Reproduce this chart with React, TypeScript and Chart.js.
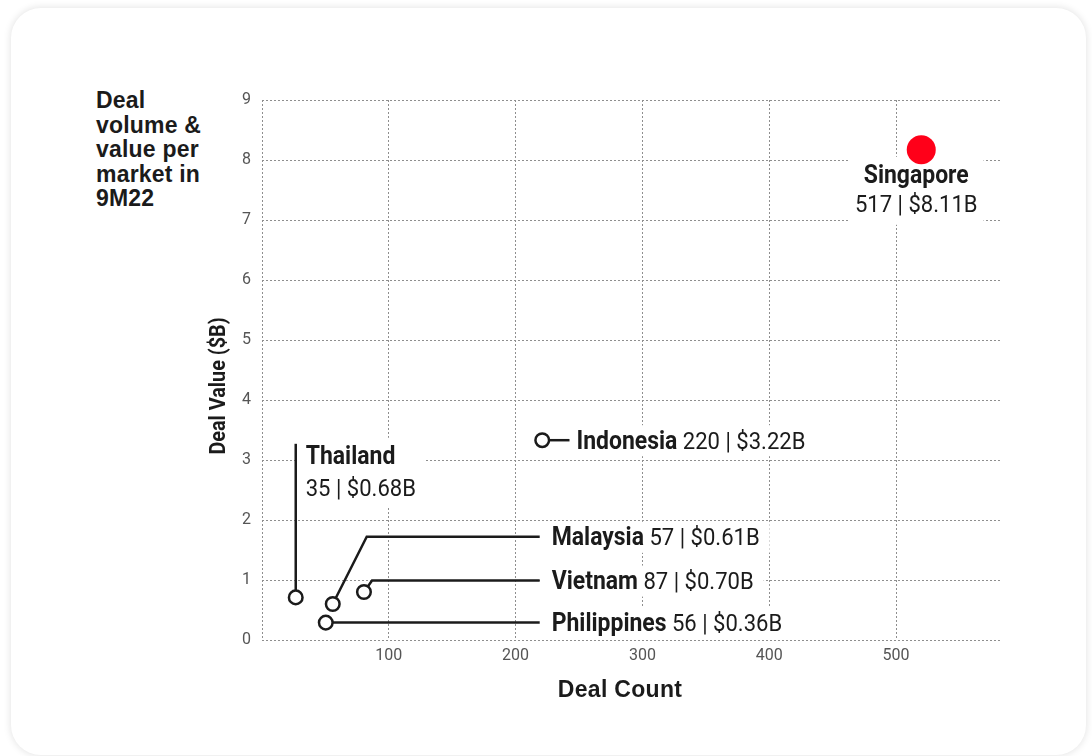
import React, { useEffect, useRef } from 'react';
import { Chart, registerables } from 'chart.js';

Chart.register(...registerables);

// ---- data ----
const countries = ['Thailand', 'Malaysia', 'Vietnam', 'Philippines', 'Indonesia', 'Singapore'];
// plotted marker positions as drawn in the reference
const dealCountPos = [26.6, 55.8, 80.4, 50.3, 221, 519.9];
const dealValuePos = [0.71, 0.6, 0.8, 0.29, 3.33, 8.17];
// values printed in the labels
const dealCountLabel = ['35', '57', '87', '56', '220', '517'];
const dealValueLabel = ['$0.68B', '$0.61B', '$0.70B', '$0.36B', '$3.22B', '$8.11B'];
const xTickValues = [0, 100, 200, 300, 400, 500];
const yTickValues = [0, 1, 2, 3, 4, 5, 6, 7, 8, 9];
// leader-line paths in data units (annotation geometry)
const leaderPaths: number[][][] = [
  [[26.6, 0.71], [26.6, 3.27]],
  [[55.8, 0.6], [82.6, 1.72], [219, 1.72]],
  [[80.4, 0.8], [86.8, 0.99], [219, 0.99]],
  [[50.3, 0.29], [219, 0.29]],
  [[221, 3.33], [242.5, 3.33]],
  [],
];
const labelMode = ['stack', 'inline', 'inline', 'inline', 'inline', 'below'];
const labelGap = [10, 12, 12, 12, 7, 0];

const TXT = '#1b1b1b';
const SX = 0.9; // horizontal condensing of label text
const BOLD = 'bold 25.5px Roboto, "Liberation Sans", sans-serif';
const REG = '24.5px Roboto, "Liberation Sans", sans-serif';

type Part = { t: string; f: string };
type Item = {
  lines: { x: number; y: number; parts: Part[]; align: 'left' | 'center' }[];
  box: [number, number, number, number];
};

function partsWidth(ctx: CanvasRenderingContext2D, parts: Part[]) {
  let w = 0;
  parts.forEach((p) => {
    ctx.font = p.f;
    w += ctx.measureText(p.t).width * SX;
  });
  return w;
}

function layout(chart: any): Item[] {
  const { ctx } = chart;
  const xs = chart.scales.x;
  const ys = chart.scales.y;
  const out: Item[] = [];
  countries.forEach((name, i) => {
    const nums = dealCountLabel[i] + ' | ' + dealValueLabel[i];
    const px = xs.getPixelForValue(dealCountPos[i]);
    const py = ys.getPixelForValue(dealValuePos[i]);
    const path = leaderPaths[i];
    if (labelMode[i] === 'inline') {
      const end = path[path.length - 1];
      const ex = xs.getPixelForValue(end[0]);
      const ey = ys.getPixelForValue(end[1]);
      const parts = [
        { t: name, f: BOLD },
        { t: ' ' + nums, f: REG },
      ];
      const tx = ex + labelGap[i];
      const w = partsWidth(ctx, parts);
      out.push({
        lines: [{ x: tx, y: ey + 8.5, parts, align: 'left' }],
        box: [ex + 2, ey - 15, tx + w + 10 - (ex + 2), 31],
      });
    } else if (labelMode[i] === 'stack') {
      const top = path[path.length - 1];
      const tx0 = xs.getPixelForValue(top[0]);
      const ty0 = ys.getPixelForValue(top[1]);
      const tx = tx0 + labelGap[i];
      const l1 = [{ t: name, f: BOLD }];
      const l2 = [{ t: nums, f: REG }];
      const w = Math.max(partsWidth(ctx, l1), partsWidth(ctx, l2));
      out.push({
        lines: [
          { x: tx, y: ty0 + 20, parts: l1, align: 'left' },
          { x: tx, y: ty0 + 52, parts: l2, align: 'left' },
        ],
        box: [tx0 + 2, ty0 - 6, tx + w + 8 - (tx0 + 2), 69],
      });
    } else {
      const cx = px - 5;
      const l1 = [{ t: name, f: BOLD }];
      const l2 = [{ t: nums, f: REG }];
      const w = Math.max(partsWidth(ctx, l1), partsWidth(ctx, l2));
      out.push({
        lines: [
          { x: cx, y: py + 33, parts: l1, align: 'center' },
          { x: cx, y: py + 62, parts: l2, align: 'center' },
        ],
        box: [cx - w / 2 - 6, py + 7, w + 12, 68],
      });
    }
  });
  return out;
}

const labelPlugin = {
  id: 'dealLabels',
  beforeDatasetsDraw(chart: any) {
    const { ctx } = chart;
    const xs = chart.scales.x;
    const ys = chart.scales.y;
    const items = layout(chart);
    ctx.save();
    ctx.fillStyle = '#ffffff';
    items.forEach((it) => ctx.fillRect(it.box[0], it.box[1], it.box[2], it.box[3]));
    ctx.strokeStyle = TXT;
    ctx.lineWidth = 2.5;
    ctx.lineJoin = 'miter';
    leaderPaths.forEach((p) => {
      if (!p.length) return;
      ctx.beginPath();
      p.forEach(([a, b], k) => {
        const X = xs.getPixelForValue(a);
        const Y = ys.getPixelForValue(b);
        if (k === 0) ctx.moveTo(X, Y);
        else ctx.lineTo(X, Y);
      });
      ctx.stroke();
    });
    ctx.restore();
  },
  afterDatasetsDraw(chart: any) {
    const { ctx } = chart;
    const items = layout(chart);
    ctx.save();
    ctx.fillStyle = TXT;
    ctx.textBaseline = 'alphabetic';
    ctx.textAlign = 'left';
    items.forEach((it) => {
      it.lines.forEach((ln) => {
        let x = ln.x;
        if (ln.align === 'center') x = ln.x - partsWidth(ctx, ln.parts) / 2;
        ln.parts.forEach((p) => {
          ctx.font = p.f;
          ctx.save();
          ctx.translate(x, ln.y);
          ctx.scale(SX, 1);
          ctx.fillText(p.t, 0, 0);
          ctx.restore();
          x += ctx.measureText(p.t).width * SX;
        });
      });
    });
    // axis titles
    ctx.save();
    ctx.translate(225, 386);
    ctx.rotate(-Math.PI / 2);
    ctx.scale(0.9, 1);
    ctx.textAlign = 'center';
    ctx.font = 'bold 22px Roboto, sans-serif';
    ctx.fillText('Deal Value ($B)', 0, 0);
    ctx.restore();
    ctx.textAlign = 'center';
    ctx.font = 'bold 23px "Liberation Sans", Arial, sans-serif';
    (ctx as any).letterSpacing = '0.3px';
    ctx.fillText('Deal Count', 620, 697);
    ctx.restore();
  },
};

export default function App() {
  const ref = useRef<HTMLCanvasElement | null>(null);
  useEffect(() => {
    if (!ref.current) return;
    const chart = new Chart(ref.current, {
      type: 'scatter',
      data: {
        datasets: [
          {
            data: countries.map((_, i) => ({ x: dealCountPos[i], y: dealValuePos[i] })),
            pointRadius: countries.map((c) => (c === 'Singapore' ? 14.5 : 6.8)),
            pointBorderWidth: countries.map((c) => (c === 'Singapore' ? 0 : 2.5)),
            pointBackgroundColor: countries.map((c) => (c === 'Singapore' ? '#ff0019' : '#ffffff')),
            pointBorderColor: countries.map((c) => (c === 'Singapore' ? '#ff0019' : TXT)),
            pointHoverRadius: 0,
          },
        ],
      },
      options: {
        responsive: false,
        animation: false,
        devicePixelRatio: 1,
        layout: { padding: { left: 0, right: 92, top: 100, bottom: 0 } },
        plugins: { legend: { display: false }, tooltip: { enabled: false } },
        scales: {
          x: {
            type: 'linear',
            min: 0,
            max: 582,
            afterBuildTicks: (s: any) => {
              s.ticks = xTickValues.map((v) => ({ value: v }));
            },
            afterFit: (s: any) => {
              s.height = 116;
            },
            grid: { color: '#8e8e8e', lineWidth: 1, drawTicks: false },
            border: { display: false, dash: [2, 2] },
            ticks: {
              padding: 6,
              color: '#555555',
              autoSkip: false,
              maxRotation: 0,
              font: { family: 'Roboto', size: 16 },
              callback: (v: any) => (v === 0 ? '' : String(v)),
            },
          },
          y: {
            type: 'linear',
            min: 0,
            max: 9,
            afterBuildTicks: (s: any) => {
              s.ticks = yTickValues.map((v) => ({ value: v }));
            },
            afterFit: (s: any) => {
              s.width = 262;
            },
            grid: { color: '#8e8e8e', lineWidth: 1, drawTicks: false },
            border: { display: false, dash: [2, 2] },
            ticks: {
              padding: 11,
              color: '#555555',
              autoSkip: false,
              font: { family: 'Roboto', size: 16 },
            },
          },
        },
      },
      plugins: [labelPlugin],
    } as any);
    return () => chart.destroy();
  }, []);

  return (
    <div style={{ position: 'fixed', left: 0, top: 0, width: 1092, height: 756, background: '#ffffff', overflow: 'hidden' }}>
      <div
        style={{
          position: 'absolute',
          left: 11,
          top: 8,
          width: 1075,
          height: 747,
          borderRadius: 30,
          background: '#ffffff',
          boxShadow: '0 0 7px 1px rgba(0,0,0,0.10)',
        }}
      />
      <div
        style={{
          position: 'absolute',
          left: 96,
          top: 88,
          width: 160,
          font: 'bold 23px "Liberation Sans", Arial, sans-serif',
          lineHeight: '24.6px',
          letterSpacing: '0.2px',
          color: TXT,
        }}
      >
        Deal
        <br />
        volume &amp;
        <br />
        value per
        <br />
        market in
        <br />
        9M22
      </div>
      <canvas ref={ref} width={1092} height={756} style={{ position: 'absolute', left: 0, top: 0 }} />
    </div>
  );
}
